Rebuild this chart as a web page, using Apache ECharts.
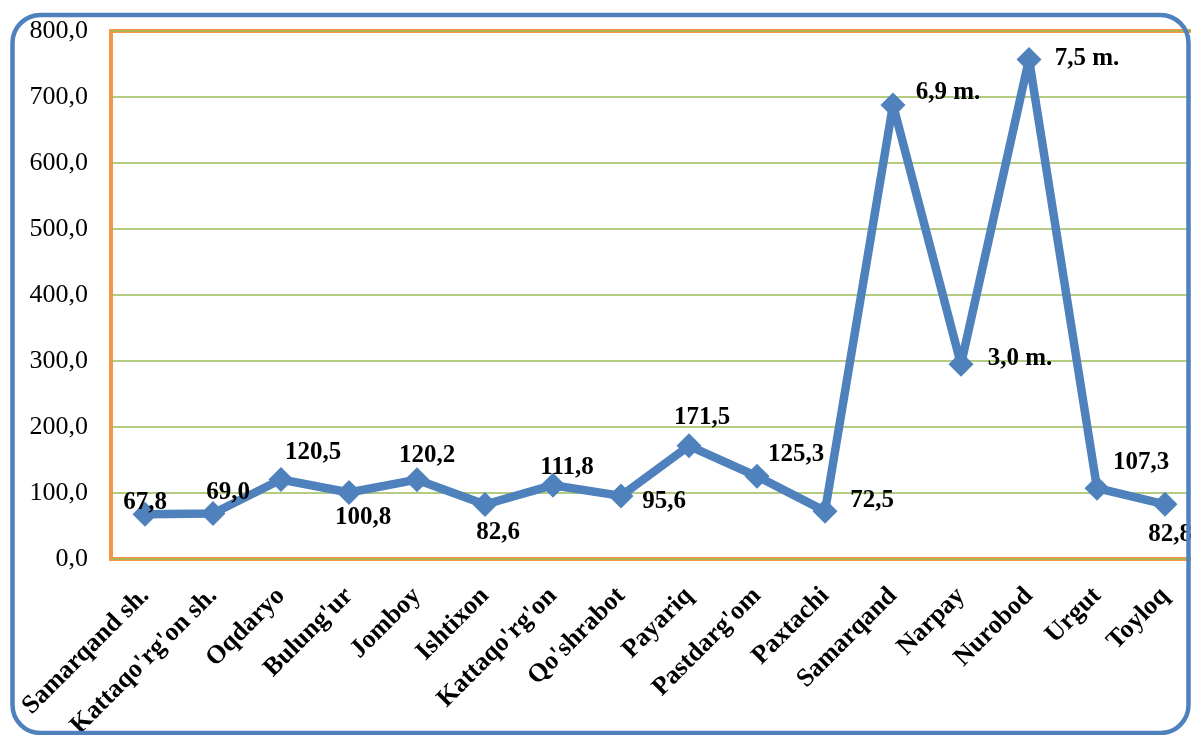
<!DOCTYPE html>
<html>
<head>
<meta charset="utf-8">
<script src="https://cdn.jsdelivr.net/npm/echarts@6/dist/echarts.min.js"></script>
<style>
html,body{margin:0;padding:0;background:#fff;overflow:hidden;}
#c{width:1191px;height:735px;}
</style>
</head>
<body>
<div id="c"></div>
<script>
const categories = ["Samarqand sh.","Kattaqo'rg'on sh.","Oqdaryo","Bulung'ur","Jomboy","Ishtixon","Kattaqo'rg'on","Qo'shrabot","Payariq","Pastdarg'om","Paxtachi","Samarqand","Narpay","Nurobod","Urgut","Toyloq"];
const values = [67.8, 69.0, 120.5, 100.8, 120.2, 82.6, 111.8, 95.6, 171.5, 125.3, 72.5, 688, 295, 757, 107.3, 82.8];
const labelTexts = ["67,8","69,0","120,5","100,8","120,2","82,6","111,8","95,6","171,5","125,3","72,5","6,9 m.","3,0 m.","7,5 m.","107,3","82,8"];
const labelOffsets = [[0,-12],[15,-21],[32,-27],[14,25],[10,-24],[13,28],[14,-18],[43,6],[13,-28],[39,-22],[47,-11],[55,-12],[59,-6],[58,-1],[44,-26],[5,30]];
const yTicks = {min:0, max:800, interval:100};

const chart = echarts.init(document.getElementById('c'));
const font = '"Liberation Serif", "Times New Roman", serif';
chart.setOption({
  animation:false,
  textStyle:{fontFamily:font},
  graphic:[{
    type:'rect', z:100, silent:true,
    shape:{x:12.5, y:15, width:1176, height:718, r:28},
    style:{fill:'none', stroke:'#4F81BD', lineWidth:4.5}
  }],
  grid:{left:111, width:1088, top:31, bottom:176, containLabel:false, outerBoundsMode:'none',
        show:true, borderColor:'#F79646', borderWidth:4, backgroundColor:'transparent'},
  xAxis:{
    type:'category', data:categories, boundaryGap:true,
    axisLine:{show:false}, axisTick:{show:false},
    axisLabel:{rotate:45, margin:33, interval:0, fontFamily:font, fontWeight:'bold', fontSize:26, color:'#000'}
  },
  yAxis:{
    type:'value', min:yTicks.min, max:yTicks.max, interval:yTicks.interval,
    axisLine:{show:false}, axisTick:{show:false},
    splitLine:{lineStyle:{color:'#9BBB59', width:1.5}},
    axisLabel:{margin:23, fontFamily:font, fontSize:26, color:'#000', formatter:v=>v.toFixed(1).replace('.',',')}
  },
  series:[{
    type:'line', data:values.map((v,i)=>({value:v, label:{formatter:labelTexts[i], offset:labelOffsets[i]}})),
    symbol:'diamond', symbolSize:25, showAllSymbol:true,
    lineStyle:{color:'#4F81BD', width:8.5},
    itemStyle:{color:'#4F81BD'},
    label:{show:true, position:'inside', fontFamily:font, fontWeight:'bold', fontSize:25, color:'#000'}
  }]
});
</script>
</body>
</html>
